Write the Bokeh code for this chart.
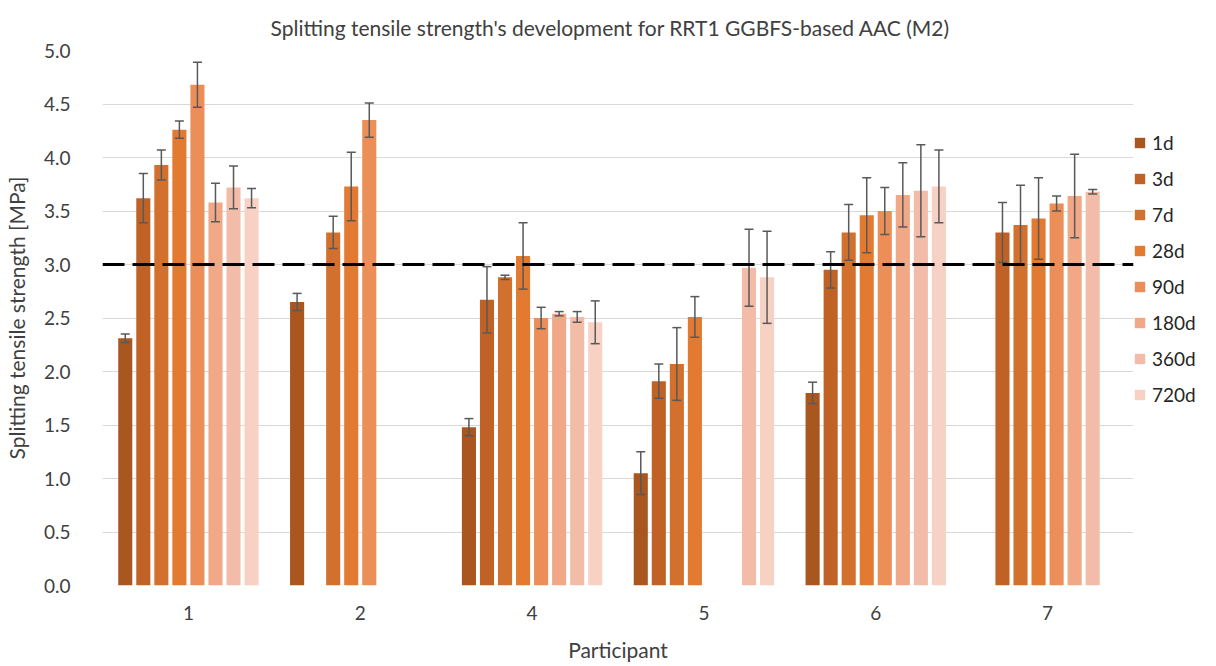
from bokeh.plotting import figure
from bokeh.models import (ColumnDataSource, Whisker, TeeHead, Span, FixedTicker,
                          Legend, LegendItem, NumeralTickFormatter, Range1d)
from bokeh.embed import file_html
from bokeh.resources import INLINE
import math

participants = ["1", "2", "4", "5", "6", "7"]
series = ["1d", "3d", "7d", "28d", "90d", "180d", "360d", "720d"]
colors = ["#A9561F", "#C06226", "#D2702D", "#E27A32", "#EC8E58", "#F0A886", "#F3BCA8", "#F7D2C4"]
nan = float("nan")

# values per series, in participant order 1, 2, 4, 5, 6, 7
means = {
    "1d":   [2.31, 2.65, 1.48, 1.05, 1.80, nan],
    "3d":   [3.62, nan, 2.67, 1.91, 2.95, 3.30],
    "7d":   [3.93, 3.30, 2.88, 2.07, 3.30, 3.37],
    "28d":  [4.26, 3.73, 3.08, 2.51, 3.46, 3.43],
    "90d":  [4.68, 4.35, 2.50, nan, 3.50, 3.57],
    "180d": [3.58, nan, 2.54, nan, 3.65, 3.64],
    "360d": [3.72, nan, 2.51, 2.97, 3.69, 3.68],
    "720d": [3.62, nan, 2.46, 2.88, 3.73, nan],
}
errors = {
    "1d":   [0.04, 0.08, 0.08, 0.20, 0.10, nan],
    "3d":   [0.23, nan, 0.31, 0.16, 0.17, 0.28],
    "7d":   [0.14, 0.15, 0.02, 0.34, 0.26, 0.37],
    "28d":  [0.08, 0.32, 0.31, 0.19, 0.35, 0.38],
    "90d":  [0.21, 0.16, 0.10, nan, 0.22, 0.07],
    "180d": [0.18, nan, 0.02, nan, 0.30, 0.39],
    "360d": [0.20, nan, 0.05, 0.36, 0.43, 0.02],
    "720d": [0.09, nan, 0.20, 0.43, 0.34, nan],
}
threshold = 3.0

FONT = "Lato"
TXT = "#404040"

p = figure(frame_width=1031, frame_height=535, output_backend="svg", toolbar_location=None,
           min_border_left=101, min_border_top=50, min_border_bottom=81, min_border_right=0,
           x_range=Range1d(-0.5, 5.5), y_range=Range1d(0, 5.0),
           title="Splitting tensile strength's development for RRT1 GGBFS-based AAC (M2)")
p.outline_line_color = None
p.background_fill_color = "white"
p.border_fill_color = "white"

p.title.align = "left"
p.title.text_font = FONT
p.title.text_font_size = "21px"
p.title.text_font_style = "normal"
p.title.text_color = TXT
p.title.offset = 168
p.title.standoff = 21

pitch = 0.105
bw = 0.082
items = []
for i, s in enumerate(series):
    xs, ys, lo, hi = [], [], [], []
    for g, (m, e) in enumerate(zip(means[s], errors[s])):
        if not math.isnan(m):
            xs.append(g + (i - 3.5) * pitch)
            ys.append(m)
            lo.append(m - e)
            hi.append(m + e)
    src = ColumnDataSource(dict(x=xs, top=ys, lower=lo, upper=hi))
    r = p.vbar(x="x", top="top", width=bw, source=src, fill_color=colors[i], line_color=None)
    items.append(LegendItem(label=s, renderers=[r]))
    w = Whisker(base="x", lower="lower", upper="upper", source=src, line_color="#595959",
                line_width=1.5, level="annotation",
                upper_head=TeeHead(size=9, line_color="#595959", line_width=1.5),
                lower_head=TeeHead(size=9, line_color="#595959", line_width=1.5))
    p.add_layout(w)

p.add_layout(Span(location=threshold, dimension="width", line_color="black",
                  line_width=3, line_dash="22 8", level="annotation"))

# axes
p.yaxis.ticker = FixedTicker(ticks=[x * 0.5 for x in range(11)])
p.yaxis.formatter = NumeralTickFormatter(format="0.0")
p.xaxis.ticker = FixedTicker(ticks=list(range(len(participants))))
p.xaxis.major_label_overrides = {i: t for i, t in enumerate(participants)}
for ax in (p.xaxis, p.yaxis):
    ax.axis_line_color = None
    ax.major_tick_line_color = None
    ax.minor_tick_line_color = None
    ax.major_label_text_font = FONT
    ax.major_label_text_font_size = "19px"
    ax.major_label_text_color = TXT
    ax.axis_label_text_font = FONT
    ax.axis_label_text_font_size = "21px"
    ax.axis_label_text_font_style = "normal"
    ax.axis_label_text_color = TXT
p.xaxis.axis_label = "Participant"
p.yaxis.axis_label = "Splitting tensile strength [MPa]"
p.xaxis.major_label_standoff = 14
p.xaxis.axis_label_standoff = 14
p.yaxis.major_label_standoff = 26
p.yaxis.axis_label_standoff = 12

p.xgrid.grid_line_color = None
p.ygrid.grid_line_color = "#D9D9D9"
p.ygrid.grid_line_width = 1.2

legend = Legend(items=items, location=(0, 179), orientation="vertical",
                label_text_font=FONT, label_text_font_size="19px", label_text_color="#262626",
                glyph_width=13, glyph_height=13, label_height=20, spacing=13,
                label_standoff=6, padding=2, margin=0, border_line_color=None,
                background_fill_alpha=0)
p.add_layout(legend, "right")

open("out.html", "w").write(file_html(p, INLINE))
